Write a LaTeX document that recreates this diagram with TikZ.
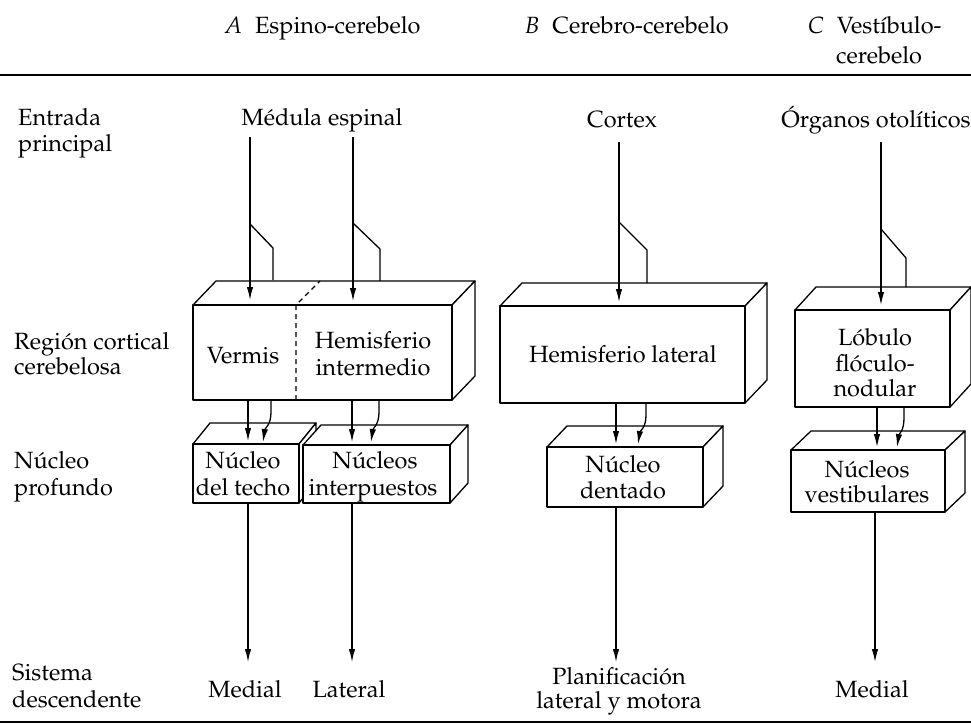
\documentclass[tikz,border=0pt]{standalone}
\usepackage[T1]{fontenc}
\usepackage{mathpazo}
\usetikzlibrary{arrows.meta}
\newcommand\cuboid[6]{% x1 y1 x2 y2 dx dy(up)
  \filldraw[boxline, fill=white] (#1,#2) -- ++(#5,-#6) -- ++(#3-#1,0) -- (#3,#2) -- cycle;
  \filldraw[boxline, fill=white] (#3,#2) -- ++(#5,-#6) -- ++(0,#4-#2) -- (#3,#4) -- cycle;
  \filldraw[boxline, fill=white] (#1,#2) rectangle (#3,#4);
}
\begin{document}
\begin{tikzpicture}[x=1pt,y=-1pt,
  lbl/.style={font=\fontsize{23.5}{27}\selectfont, inner sep=0pt, anchor=base},
  lblw/.style={lbl, anchor=base west},
  boxline/.style={line width=1.3pt, line join=round},
  arr/.style={line width=1.3pt, -{Latex[length=13pt,width=6.5pt]}},
  plain/.style={line width=1.3pt, line join=round},
  rule/.style={line width=2pt}]
\useasboundingbox (0,0) rectangle (971,724);

% header
\node[lblw] (hA) at (225,33) {\textit{A}\hspace{0.55em}Espino-cerebelo};
\node[lblw] (hB) at (525,33) {\textit{B}\hspace{0.55em}Cerebro-cerebelo};
\node[lblw] (hC1) at (808,33) {\textit{C}\hspace{0.55em}Vestíbulo-};
\node[lblw] (hC2) at (836,63) {cerebelo};
\coordinate (tl) at (0,75); \coordinate (tr) at (971,75);
\draw[rule] (tl) -- (tr);
\coordinate (bl) at (0,722); \coordinate (br) at (971,722);
\draw[line width=1.6pt] (bl) -- (br);

% row labels
\node[lblw] (l1a) at (18,125) {Entrada};
\node[lblw] (l1b) at (18,151) {principal};
\node[lblw] (l2a) at (14,349) {Región cortical};
\node[lblw] (l2b) at (14,374) {cerebelosa};
\node[lblw] (l3a) at (14,468) {Núcleo};
\node[lblw] (l3b) at (14,495) {profundo};
\node[lblw] (l4a) at (12,680) {Sistema};
\node[lblw] (l4b) at (12,707) {descendente};

% inputs
\node[lbl] (inA) at (322,125) {Médula espinal};
\node[lbl] (inB) at (622,127) {Cortex};
\node[lbl] (inC) at (876,127) {Órganos otolíticos};

% boxes: cortical region
\cuboid{193}{305}{452}{400}{23}{24}
\draw[boxline, dashed, dash pattern=on 5pt off 4pt] (296,400) -- (296,305) -- (320,281);
\cuboid{500}{306}{745}{403}{22}{23}
\cuboid{795}{310}{950}{407}{21}{23}

% boxes: deep nuclei
\cuboid{193}{444}{299}{503}{17}{21}
\cuboid{303}{445}{450}{503}{18}{20}
\cuboid{547}{447}{703}{507}{20}{21}
\cuboid{791}{450}{945}{512}{20}{19}

% box labels
\node[lbl] (verm) at (243,363) {Vermis};
\node[lbl] (hem1) at (373,348) {Hemisferio};
\node[lbl] (hem2) at (373,375) {intermedio};
\node[lbl] (heml) at (623,362) {Hemisferio lateral};
\node[lbl] (lob1) at (875,345) {Lóbulo};
\node[lbl] (lob2) at (875,371) {flóculo-};
\node[lbl] (lob3) at (875,396) {nodular};
\node[lbl] (nt1) at (243,468) {Núcleo};
\node[lbl] (nt2) at (243,495) {del techo};
\node[lbl] (ni1) at (375,468) {Núcleos};
\node[lbl] (ni2) at (373,495) {interpuestos};
\node[lbl] (nd1) at (623,472) {Núcleo};
\node[lbl] (nd2) at (623,498) {dentado};
\node[lbl] (nv1) at (867,477) {Núcleos};
\node[lbl] (nv2) at (867,502) {vestibulares};

% outputs
\node[lbl] (oA1) at (245,697) {Medial};
\node[lbl] (oA2) at (349,697) {Lateral};
\node[lbl] (oB1) at (619,684) {Planificación};
\node[lbl] (oB2) at (619,708) {lateral y motora};
\node[lbl] (oC) at (872,697) {Medial};

% input arrows with branches
\coordinate (a1s) at (250,137); \coordinate (a1e) at (250,300);
\coordinate (a1b) at (250,224); \coordinate (a1k) at (273,248); \coordinate (a1t) at (273,280);
\draw[arr] (a1s) -- (a1e);
\draw[plain] (a1b) -- (a1k) -- (a1t);
\coordinate (a2s) at (353,137); \coordinate (a2e) at (353,301);
\coordinate (a2b) at (353,223); \coordinate (a2k) at (380,249); \coordinate (a2t) at (380,281);
\draw[arr] (a2s) -- (a2e);
\draw[plain] (a2b) -- (a2k) -- (a2t);
\coordinate (b1s) at (619,142); \coordinate (b1e) at (619,302);
\coordinate (b1b) at (619,222); \coordinate (b1k) at (647,250); \coordinate (b1t) at (647,283);
\draw[arr] (b1s) -- (b1e);
\draw[plain] (b1b) -- (b1k) -- (b1t);
\coordinate (c1s) at (881,142); \coordinate (c1e) at (881,305);
\coordinate (c1b) at (881,229); \coordinate (c1k) at (906,258); \coordinate (c1t) at (906,287);
\draw[arr] (c1s) -- (c1e);
\draw[plain] (c1b) -- (c1k) -- (c1t);

% cortex -> nuclei arrows
\coordinate (p1s) at (248,400); \coordinate (p1e) at (248,441);
\draw[arr] (p1s) -- (p1e);
\coordinate (q1s) at (271,400); \coordinate (q1m) at (271,412); \coordinate (q1e) at (263,442);
\draw[arr] (q1s) -- (q1m) .. controls (271,425) and (265,428) .. (q1e);
\coordinate (p2s) at (352,400); \coordinate (p2e) at (352,442);
\draw[arr] (p2s) -- (p2e);
\coordinate (q2s) at (379,400); \coordinate (q2m) at (379,412); \coordinate (q2e) at (371,442);
\draw[arr] (q2s) -- (q2m) .. controls (379,425) and (373,428) .. (q2e);
\coordinate (p3s) at (616,403); \coordinate (p3e) at (616,444);
\draw[arr] (p3s) -- (p3e);
\coordinate (q3s) at (646,403); \coordinate (q3m) at (646,415); \coordinate (q3e) at (638,444);
\draw[arr] (q3s) -- (q3m) .. controls (646,428) and (640,431) .. (q3e);
\coordinate (p4s) at (877,407); \coordinate (p4e) at (877,447);
\draw[arr] (p4s) -- (p4e);
\coordinate (q4s) at (904,407); \coordinate (q4m) at (904,418); \coordinate (q4e) at (897,447);
\draw[arr] (q4s) -- (q4m) .. controls (904,431) and (899,434) .. (q4e);

% descending arrows
\coordinate (d1s) at (248,503); \coordinate (d1e) at (248,662);
\coordinate (d2s) at (352,503); \coordinate (d2e) at (352,662);
\coordinate (d3s) at (616,507); \coordinate (d3e) at (616,662);
\coordinate (d4s) at (875,512); \coordinate (d4e) at (875,662);
\draw[arr] (d1s) -- (d1e);
\draw[arr] (d2s) -- (d2e);
\draw[arr] (d3s) -- (d3e);
\draw[arr] (d4s) -- (d4e);
\end{tikzpicture}
\end{document}
